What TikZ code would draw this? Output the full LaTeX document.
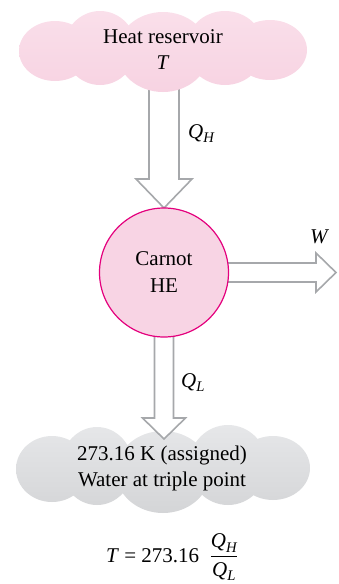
\documentclass[tikz,border=0pt]{standalone}
\usepackage{fontspec}
\setmainfont{Liberation Serif}
\usepackage{amsmath}
\definecolor{pinkA}{RGB}{250,223,234}
\definecolor{pinkB}{RGB}{247,211,226}
\definecolor{grayA}{RGB}{230,231,233}
\definecolor{grayB}{RGB}{212,213,215}
\definecolor{hefill}{RGB}{248,212,228}
\definecolor{hedraw}{RGB}{228,0,125}
\definecolor{arrowgray}{RGB}{166,168,171}
\tikzset{
  txt/.style={font=\fontsize{21}{26}\selectfont, align=center, inner sep=0pt},
  lbl/.style={font=\fontsize{21}{26}\selectfont, inner sep=0pt, anchor=base west},
  blockarrow/.style={draw=arrowgray, line width=1.6pt, fill=white, line join=miter},
}
\begin{document}
\begin{tikzpicture}[x=1pt,y=-1pt]
\useasboundingbox (0,0) rectangle (338,584);
% named points of the heat flows
\coordinate (qhtop) at (164,70);
\coordinate (qhtip) at (164,208);
\coordinate (qltop) at (164,320);
\coordinate (qltip) at (164,439);
\coordinate (wstart) at (210,272.5);
\coordinate (wtip) at (336,272.5);
% Q_H arrow (behind the reservoir cloud)
\draw[blockarrow] ([xshift=-15pt]qhtop) -- ([xshift=-15pt]qhtip |- 0,179) -- ([xshift=-28pt]qhtip |- 0,179)
  -- (qhtip) -- ([xshift=28pt]qhtip |- 0,179) -- ([xshift=15pt]qhtip |- 0,179) -- ([xshift=15pt]qhtop) -- cycle;
% top cloud
\shade[top color=pinkA, bottom color=pinkB]
  (55,51) ellipse [x radius=36pt, y radius=30pt]
  (100,48) ellipse [x radius=36pt, y radius=37pt]
  (163,52) ellipse [x radius=46pt, y radius=40pt]
  (225,48) ellipse [x radius=39pt, y radius=37pt]
  (270,50) ellipse [x radius=37pt, y radius=30pt];
\node[txt] (hot) at (163,50) {Heat reservoir\\\textit{T}};
% W arrow (behind the engine)
\draw[blockarrow] ([yshift=-9.5pt]wstart) -- ([yshift=-9.5pt]wtip -| 316,0) -- ([yshift=-19.5pt]wtip -| 316,0)
  -- (wtip) -- ([yshift=19.5pt]wtip -| 316,0) -- ([yshift=9.5pt]wtip -| 316,0) -- ([yshift=9.5pt]wstart) -- cycle;
% bottom cloud
\shade[top color=grayA, bottom color=grayB]
  (52,469) ellipse [x radius=36pt, y radius=33pt]
  (97,466) ellipse [x radius=36pt, y radius=39pt]
  (163,472) ellipse [x radius=47pt, y radius=41pt]
  (228,465) ellipse [x radius=39pt, y radius=40pt]
  (273,468) ellipse [x radius=37pt, y radius=32pt];
\node[txt] (cold) at (162,468) {273.16 K (assigned)\\Water at triple point};
% Q_L arrow
\draw[blockarrow] ([xshift=-9.5pt]qltop) -- ([xshift=-9.5pt]qltip |- 0,418) -- ([xshift=-21.5pt]qltip |- 0,418)
  -- (qltip) -- ([xshift=21.5pt]qltip |- 0,418) -- ([xshift=9.5pt]qltip |- 0,418) -- ([xshift=9.5pt]qltop) -- cycle;
% engine
\node[circle, draw=hedraw, line width=1.2pt, fill=hefill, minimum size=129pt, inner sep=0pt,
      font=\fontsize{21}{27}\selectfont, align=center] (he) at (164,272.5) {Carnot\\HE};
% labels
\node[lbl] (lqh) at (188,138) {$\textit{Q}_{\textit{H}}$};
\node[lbl] (lw) at (310,243) {\textit{W}};
\node[lbl] (lql) at (181,387) {$\textit{Q}_{\textit{L}}$};
\node[lbl] (eq) at (106,562) {\textit{T} = 273.16\enspace$\dfrac{\textit{Q}_{\textit{H}}}{\textit{Q}_{\textit{L}}}$};
\end{tikzpicture}
\end{document}
